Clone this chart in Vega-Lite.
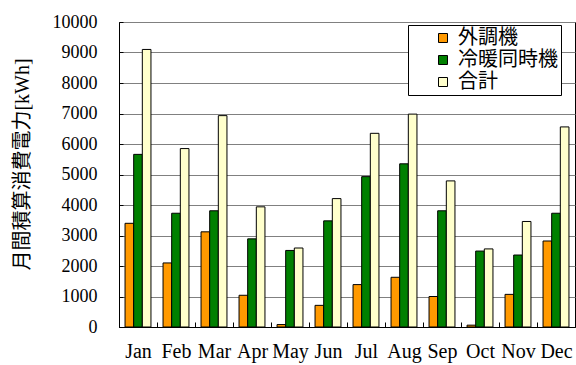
{
  "$schema": "https://vega.github.io/schema/vega-lite/v6.json",
  "autosize": "none",
  "width": 456,
  "height": 305,
  "padding": {"left": 119, "top": 22, "right": 1, "bottom": 38},
  "background": "white",
  "data": {
    "values": [
      {"month": "Jan", "series": "外調機", "kwh": 3400},
      {"month": "Jan", "series": "冷暖同時機", "kwh": 5660},
      {"month": "Jan", "series": "合計", "kwh": 9100},
      {"month": "Feb", "series": "外調機", "kwh": 2100},
      {"month": "Feb", "series": "冷暖同時機", "kwh": 3730},
      {"month": "Feb", "series": "合計", "kwh": 5850},
      {"month": "Mar", "series": "外調機", "kwh": 3120},
      {"month": "Mar", "series": "冷暖同時機", "kwh": 3810},
      {"month": "Mar", "series": "合計", "kwh": 6930},
      {"month": "Apr", "series": "外調機", "kwh": 1040},
      {"month": "Apr", "series": "冷暖同時機", "kwh": 2890},
      {"month": "Apr", "series": "合計", "kwh": 3940},
      {"month": "May", "series": "外調機", "kwh": 80},
      {"month": "May", "series": "冷暖同時機", "kwh": 2510},
      {"month": "May", "series": "合計", "kwh": 2590},
      {"month": "Jun", "series": "外調機", "kwh": 710},
      {"month": "Jun", "series": "冷暖同時機", "kwh": 3480},
      {"month": "Jun", "series": "合計", "kwh": 4210},
      {"month": "Jul", "series": "外調機", "kwh": 1390},
      {"month": "Jul", "series": "冷暖同時機", "kwh": 4930},
      {"month": "Jul", "series": "合計", "kwh": 6350},
      {"month": "Aug", "series": "外調機", "kwh": 1630},
      {"month": "Aug", "series": "冷暖同時機", "kwh": 5350},
      {"month": "Aug", "series": "合計", "kwh": 6980},
      {"month": "Sep", "series": "外調機", "kwh": 1000},
      {"month": "Sep", "series": "冷暖同時機", "kwh": 3810},
      {"month": "Sep", "series": "合計", "kwh": 4790},
      {"month": "Oct", "series": "外調機", "kwh": 60},
      {"month": "Oct", "series": "冷暖同時機", "kwh": 2490},
      {"month": "Oct", "series": "合計", "kwh": 2560},
      {"month": "Nov", "series": "外調機", "kwh": 1070},
      {"month": "Nov", "series": "冷暖同時機", "kwh": 2360},
      {"month": "Nov", "series": "合計", "kwh": 3460},
      {"month": "Dec", "series": "外調機", "kwh": 2820},
      {"month": "Dec", "series": "冷暖同時機", "kwh": 3730},
      {"month": "Dec", "series": "合計", "kwh": 6560}
    ]
  },
  "mark": {"type": "bar", "stroke": "#000000", "strokeWidth": 1},
  "encoding": {
    "x": {
      "field": "month",
      "type": "nominal",
      "sort": ["Jan", "Feb", "Mar", "Apr", "May", "Jun", "Jul", "Aug", "Sep", "Oct", "Nov", "Dec"],
      "scale": {"paddingInner": 0, "paddingOuter": 0},
      "axis": {
        "title": null,
        "labelAngle": 0,
        "labelFont": "Liberation Serif",
        "labelFontSize": 20,
        "labelColor": "#000000",
        "labelPadding": 19,
        "tickBand": "extent",
        "tickSize": -5,
        "tickColor": "#000000",
        "domainColor": "#000000",
        "grid": false
      }
    },
    "xOffset": {
      "field": "series",
      "type": "nominal",
      "sort": ["外調機", "冷暖同時機", "合計"],
      "scale": {"paddingInner": 0, "paddingOuter": 0.7}
    },
    "y": {
      "field": "kwh",
      "type": "quantitative",
      "scale": {"domain": [0, 10000], "nice": false},
      "axis": {
        "title": "月間積算消費電力[kWh]",
        "titleFont": "Liberation Serif, Noto Sans CJK JP",
        "titleFontSize": 20,
        "titleFontWeight": "normal",
        "titleColor": "#000000",
        "titleAngle": -90,
        "titleAlign": "center",
        "titleBaseline": "middle",
        "titleX": -97,
        "titleY": 142,
        "values": [0, 1000, 2000, 3000, 4000, 5000, 6000, 7000, 8000, 9000, 10000],
        "format": "d",
        "labelFont": "Liberation Serif",
        "labelFontSize": 18,
        "labelColor": "#000000",
        "labelPadding": 26,
        "tickSize": -4,
        "tickColor": "#000000",
        "domainColor": "#000000",
        "grid": true,
        "gridColor": "#808080",
        "gridWidth": 1
      }
    },
    "color": {
      "field": "series",
      "type": "nominal",
      "sort": ["外調機", "冷暖同時機", "合計"],
      "scale": {"domain": ["外調機", "冷暖同時機", "合計"], "range": ["#FF9900", "#008000", "#FFFFCC"]},
      "legend": {
        "title": null,
        "orient": "none",
        "legendX": 289,
        "legendY": 3,
        "direction": "vertical",
        "fillColor": "#FFFFFF",
        "strokeColor": "#000000",
        "padding": 3,
        "rowPadding": 2,
        "symbolType": "square",
        "symbolSize": 81,
        "symbolOffset": 22,
        "symbolStrokeColor": "#000000",
        "symbolStrokeWidth": 1,
        "labelFont": "Noto Sans CJK JP",
        "labelFontSize": 20,
        "labelColor": "#000000",
        "labelOffset": 5,
        "labelLimit": 300,
        "labelExpr": "datum.label + '\u3000'"
      }
    }
  },
  "config": {
    "view": {"stroke": "#000000", "strokeWidth": 1},
    "axis": {"domainWidth": 1, "tickWidth": 1}
  }
}
